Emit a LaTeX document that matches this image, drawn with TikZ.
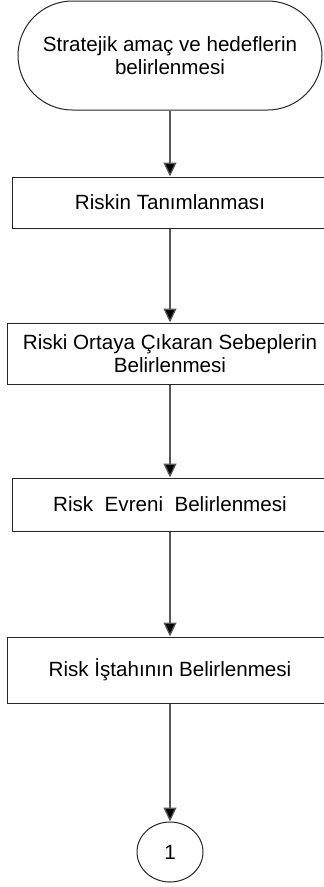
\documentclass[tikz,border=0pt]{standalone}
\usepackage{fontspec}
\setmainfont{Liberation Sans}
\usetikzlibrary{arrows.meta,shapes.geometric}
\begin{document}
\begin{tikzpicture}[x=1pt,y=-1pt,
  every node/.style={font=\fontsize{20.6}{22.5}\selectfont, align=center, inner sep=0pt},
  stepbox/.style={draw=black!85, line width=1pt, rectangle, minimum width=#1},
  conn/.style={draw=black!65, line width=1.3pt, -{Triangle[width=13pt,length=14pt,fill=black]}},
]
\useasboundingbox (0,0) rectangle (324,887);
\clip (0,0) rectangle (324,887);
\node[draw=black!85, line width=1pt, rectangle, rounded corners=54.5pt, minimum width=304pt, minimum height=109pt] (s) at (170,55.5) {Stratejik amaç ve hedeflerin\\belirlenmesi};
\node[stepbox=316pt, minimum height=51pt] (b1) at (170,202.5) {Riskin Tanımlanması};
\node[stepbox=326pt, minimum height=61pt] (b2) at (170,353.5) {Riski Ortaya Çıkaran Sebeplerin\\Belirlenmesi};
\node[stepbox=316pt, minimum height=53pt] (b3) at (170,504.5) {Risk\ \ Evreni\ \ Belirlenmesi};
\node[stepbox=326pt, minimum height=66pt] (b4) at (170,670) {Risk İştahının Belirlenmesi};
\node[draw=black!85, line width=1pt, ellipse, minimum width=66pt, minimum height=60pt] (c) at (170,852) {1};
\draw[conn] (s.south) -- (b1.north);
\draw[conn] (b1.south) -- (b2.north);
\draw[conn] (b2.south) -- (b3.north);
\draw[conn] (b3.south) -- (b4.north);
\draw[conn] (b4.south) -- (c.north);
\end{tikzpicture}
\end{document}
